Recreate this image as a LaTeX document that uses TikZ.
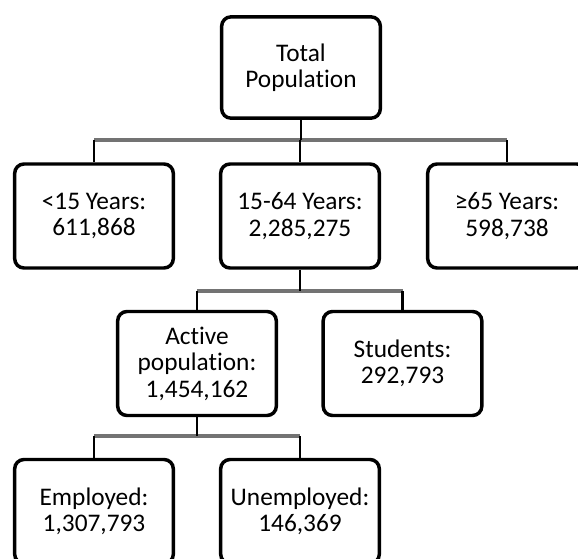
\documentclass[tikz,border=0pt]{standalone}
\usepackage{fontspec}
\setmainfont[Ligatures=NoCommon]{Carlito}

\begin{document}
\begin{tikzpicture}[x=0.75pt, y=-0.75pt,
  box/.style={draw, line width=2.6pt, rounded corners=7pt, minimum width=119pt,
    minimum height=78pt, align=center, inner sep=2pt,
    font=\fontsize{19}{19.8}\selectfont},
  stem/.style={line width=2.2pt},
  bar/.style={black!55, line width=2.4pt}]
  \useasboundingbox (0,0) rectangle (578,558);
  \clip (0,0) rectangle (578,558);
  % Top box
  \node[box, minimum height=76pt] (total) at (301,67.5) {Total\\Population};
  % Age groups
  \node[box] (young)   at (94,216)  {<15 Years:\\611,868};
  \node[box] (working) at (300,216) {15-64 Years:\\2,285,275};
  \node[box] (old)     at (507,216) {≥65 Years:\\598,738};
  % Working age split
  \node[box] (active)   at (197,363.5)   {Active\\population:\\1,454,162};
  \node[box] (students) at (402.5,363.5) {Students:\\292,793};
  % Active population split
  \node[box] (employed)   at (94,511.5)  {Employed:\\1,307,793};
  \node[box] (unemployed) at (300,511.5) {Unemployed:\\146,369};
  % Junction heights
  \coordinate (bar1) at (300,140);
  \coordinate (bar2) at (300,291);
  \coordinate (bar3) at (300,436);
  % Horizontal bars
  \draw[bar] (young |- bar1) -- (old |- bar1);
  \draw[bar] (active |- bar2) -- (students |- bar2);
  \draw[bar] (employed |- bar3) -- (unemployed |- bar3);
  % Stems
  \draw[stem] (total.south) -- (total |- bar1);
  \foreach \n in {young, working, old}{
    \draw[stem] (\n |- bar1) -- (\n.north);
  }
  \draw[stem] (working.south) -- (working |- bar2);
  \foreach \n in {active, students}{
    \draw[stem] (\n |- bar2) -- (\n.north);
  }
  \draw[stem] (active.south) -- (active |- bar3);
  \foreach \n in {employed, unemployed}{
    \draw[stem] (\n |- bar3) -- (\n.north);
  }
\end{tikzpicture}
\end{document}
